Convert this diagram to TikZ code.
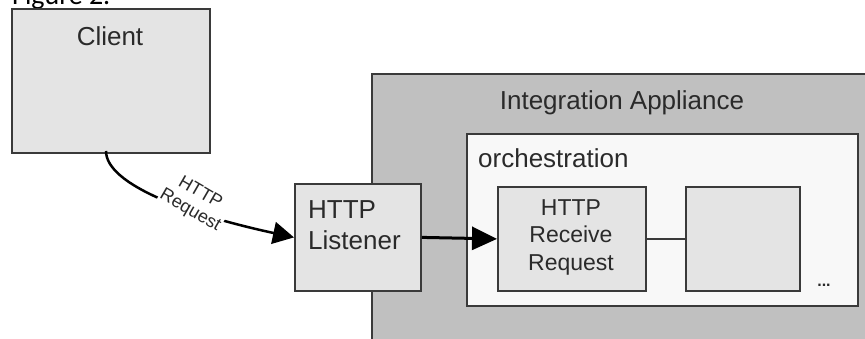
\documentclass[tikz,border=0pt]{standalone}
\usepackage{fontspec}
\setmainfont{Liberation Sans}
\newfontfamily\figfont{Carlito}
\usetikzlibrary{arrows.meta}
\definecolor{edge}{HTML}{3A3A3A}
\definecolor{boxfill}{HTML}{E4E4E4}
\definecolor{appfill}{HTML}{C0C0C0}
\definecolor{orchfill}{HTML}{F8F8F8}
\definecolor{txt}{HTML}{2A2A2A}
\tikzset{
  box/.style={draw=edge, line width=1.8pt, fill=boxfill, inner sep=0pt, anchor=north west},
  lbl/.style={inner sep=0pt, text=txt, font=\fontsize{26}{31}\selectfont},
  small/.style={inner sep=0pt, text=txt, font=\fontsize{23}{27.5}\selectfont},
  bigarrow/.style={line width=3pt, -{Triangle[length=25pt,width=23pt]}},
}
\begin{document}
\begin{tikzpicture}[x=1pt,y=-1pt]
\useasboundingbox (0,0) rectangle (865,339);
\clip (0,0) rectangle (865,339);
% caption (cut off at the top)
\node[inner sep=0pt, anchor=base west, text=black, font=\figfont\fontsize{28}{32}\selectfont] (fig) at (12,5) {Figure 2.};
% Integration appliance
\node[box, fill=appfill, minimum width=520pt, minimum height=290pt] (app) at (371,73) {};
\node[lbl, anchor=base] (apptxt) at (622,110) {Integration Appliance};
% orchestration
\node[box, fill=orchfill, minimum width=391pt, minimum height=172pt] (orch) at (466,133) {};
\node[lbl, anchor=base west] (orchtxt) at (478,168) {orchestration};
% Client
\node[box, minimum width=198pt, minimum height=144pt] (client) at (11,8) {};
\node[lbl, anchor=base] (clienttxt) at (110,46) {Client};
\coordinate (cstart) at (106,151);
% HTTP Listener
\node[box, minimum width=126pt, minimum height=107pt] (listener) at (294,183) {};
\node[lbl, anchor=base west] (lst1) at (308,219) {HTTP};
\node[lbl, anchor=base west] (lst2) at (308,250) {Listener};
% HTTP Receive Request
\node[box, minimum width=148pt, minimum height=104pt] (recv) at (497,186) {};
\node[small, anchor=base] (rc1) at (571,216) {HTTP};
\node[small, anchor=base] (rc2) at (571,243) {Receive};
\node[small, anchor=base] (rc3) at (571,271) {Request};
% empty activity
\node[box, minimum width=114pt, minimum height=104pt] (next) at (685,186) {};
\node[inner sep=0pt, text=txt, font=\bfseries\fontsize{16}{18}\selectfont, anchor=base] (dots) at (824,287) {...};
% connectors
\draw[line width=1.5pt, draw=edge] (recv.east) -- (next.west);
\draw[bigarrow] (listener.east) -- (recv.west);
\draw[line width=2.5pt, -{Triangle[length=21pt,width=22pt]}] (cstart) .. controls (106,185) and (190,215) .. (listener.west);
\node[rotate=-30, fill=white, inner sep=1pt, align=center, text=txt, font=\fontsize{18}{20}\selectfont] (reqlbl) at (195,202) {HTTP\\Request};
\end{tikzpicture}
\end{document}
